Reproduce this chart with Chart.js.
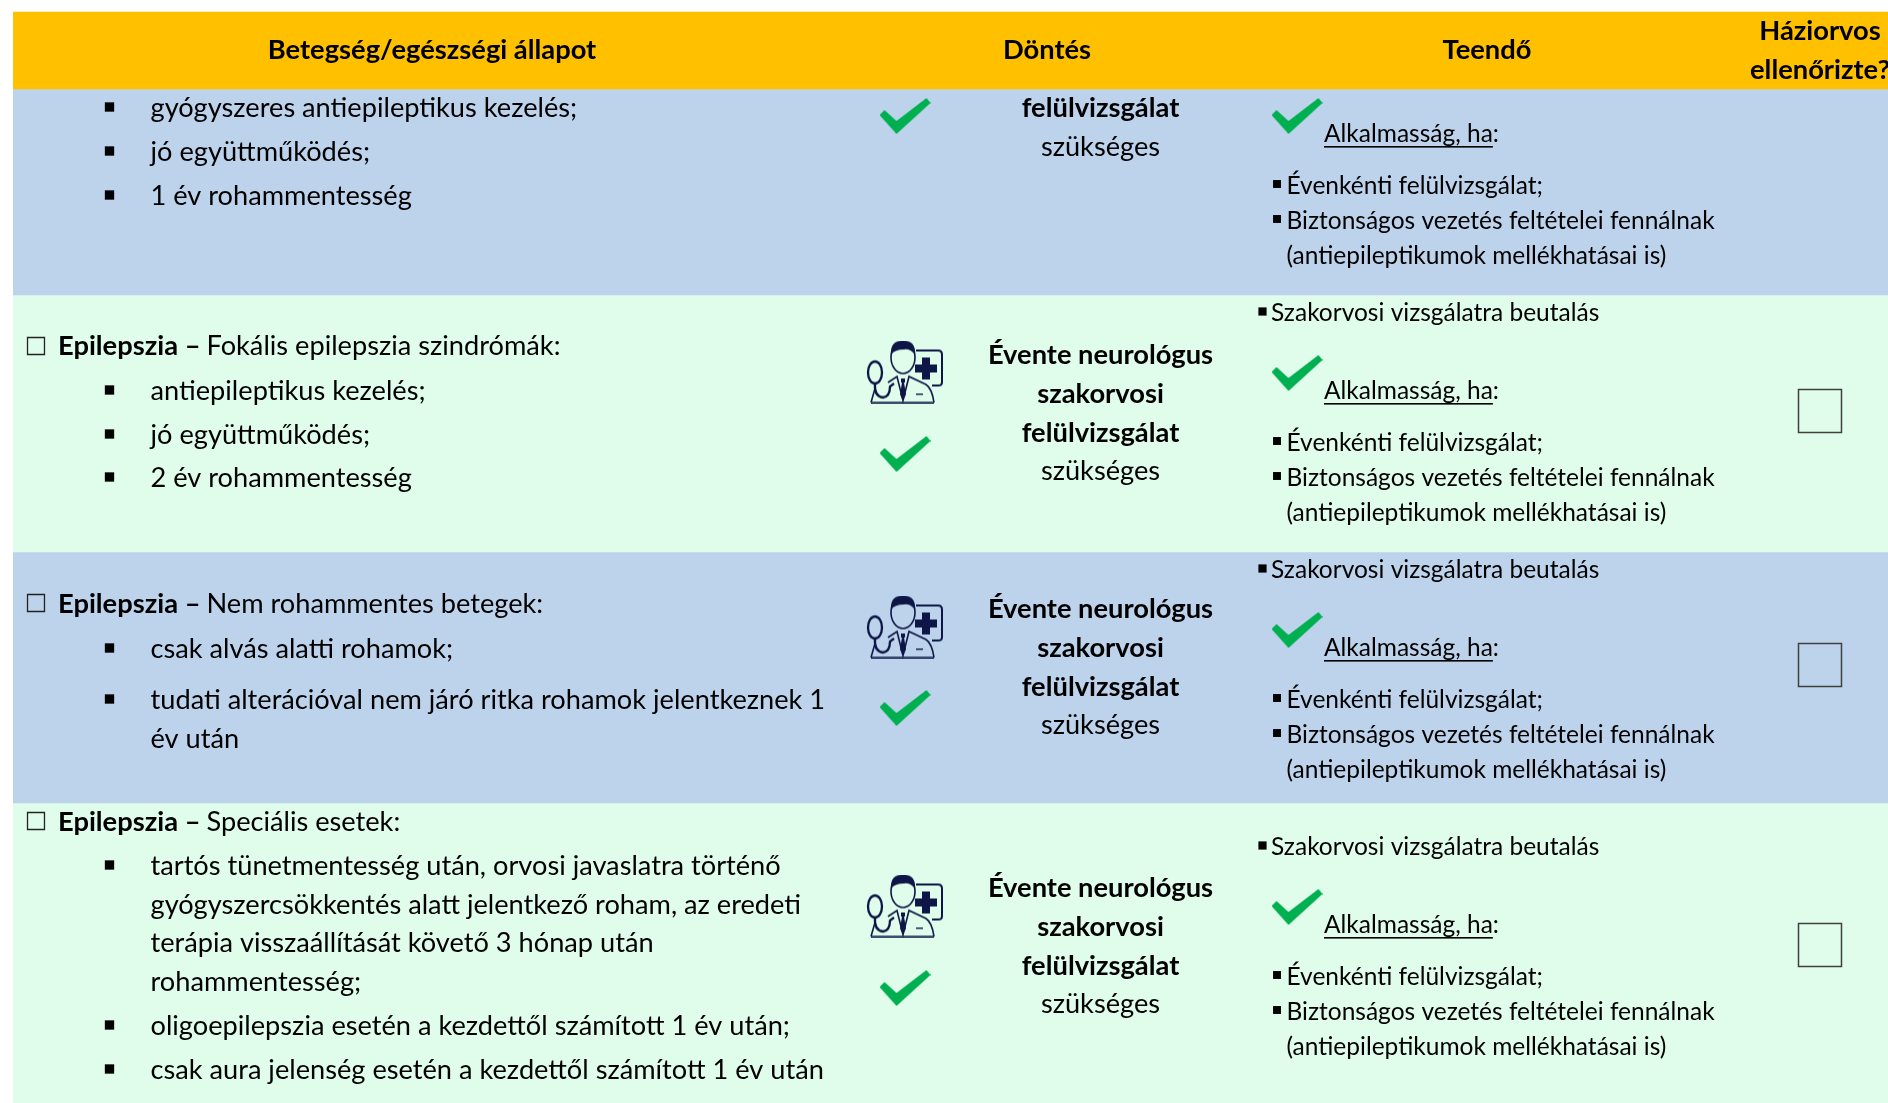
<!DOCTYPE html>
<html lang="hu">

<head>
  <meta charset="UTF-8">
  <script src="https://cdn.jsdelivr.net/npm/chart.js"></script>
  <title>Epilepszia</title>
  <style>
    html, body { margin: 0; padding: 0; background: #fff; overflow: hidden; }
    canvas { display: block; }
  </style>
</head>

<body>
  <canvas id="myChart" width="1888" height="1103"></canvas>
</body>

</html>
<script>
  // sorok hatarai (y tengely)
  var rowEdges = [12, 89, 295, 552, 803, 1103]
  var rowNames = ["fejlec", "sor1", "sor2", "sor3", "sor4"]
  var rowColors = ["#FFC000", "#BDD3EC", "#E0FCEB", "#BDD3EC", "#E0FCEB"]

  // szovegek
  var headerTexts = ["Betegség/egészségi állapot", "Döntés", "Teendő", "Háziorvos", "ellenőrizte?"]
  var conditionBold = "Epilepszia –"
  var conditionTitles = [" Fokális epilepszia szindrómák:", " Nem rohammentes betegek:", " Speciális esetek:"]
  var conditionLines = [
    "gyógyszeres antiepileptikus kezelés;", "jó együttműködés;", "1 év rohammentesség",
    "antiepileptikus kezelés;", "jó együttműködés;", "2 év rohammentesség",
    "csak alvás alatti rohamok;", "tudati alterációval nem járó ritka rohamok jelentkeznek 1", "év után",
    "tartós tünetmentesség után, orvosi javaslatra történő",
    "gyógyszercsökkentés alatt jelentkező roham, az eredeti",
    "terápia visszaállítását követő 3 hónap után",
    "rohammentesség;",
    "oligoepilepszia esetén a kezdettől számított 1 év után;",
    "csak aura jelenség esetén a kezdettől számított 1 év után"
  ]
  var decisionBold = ["Évente neurológus", "szakorvosi", "felülvizsgálat"]
  var decisionLast = "szükséges"
  var referralText = "Szakorvosi vizsgálatra beutalás"
  var fitnessText = "Alkalmasság, ha"
  var todoLines = ["Évenkénti felülvizsgálat;", "Biztonságos vezetés feltételei fennálnak", "(antiepileptikumok mellékhatásai is)"]

  // jelolok helye
  var checkX = [905, 1297]
  var checkLeftY = [116, 454, 708, 988]
  var checkTodoY = [116, 373, 630, 907]
  var doctorX = [905, 905, 905]
  var doctorY = [372, 627, 906]
  var boxX = [1820, 1820, 1820]
  var boxY = [411, 665, 945]
  var smallBoxY = [346, 603, 821]

  // alapvonalak
  var conditionBase = [117, 161, 205, 400, 444, 487, 658, 709, 748, 875, 914, 952, 991, 1035, 1079]
  var conditionHasBullet = [1, 1, 1, 1, 1, 1, 1, 1, 0, 1, 0, 0, 0, 1, 1]
  var titleBase = [355, 613, 831]
  var decisionBase = [364, 618, 897]
  var todoShift = [-257, 0, 257, 534]

  var mainFont = "27.2px Lato"
  var mainBold = "bold 27.3px Lato"
  var smallFont = "24.5px Lato"

  function makeCheck() {
    var c = document.createElement("canvas")
    c.width = 51
    c.height = 36
    var g = c.getContext("2d")
    g.fillStyle = "#00B050"
    g.beginPath()
    g.moveTo(0, 17)
    g.lineTo(5, 12)
    g.lineTo(17, 23)
    g.lineTo(47, 0)
    g.lineTo(51, 5)
    g.lineTo(17, 36)
    g.closePath()
    g.fill()
    return c
  }

  function makeDoctor() {
    var c = document.createElement("canvas")
    c.width = 78
    c.height = 63
    var g = c.getContext("2d")
    var navy = "#0D1646"
    g.strokeStyle = navy
    g.fillStyle = navy
    // kartya
    g.lineWidth = 2
    g.beginPath()
    g.moveTo(50, 10)
    g.lineTo(72, 10)
    g.quadraticCurveTo(76, 10, 76, 14)
    g.lineTo(76, 42)
    g.quadraticCurveTo(76, 45, 72, 45)
    g.lineTo(66, 45)
    g.stroke()
    g.fillRect(56, 17, 8, 22)
    g.fillRect(49, 24, 22, 8)
    // fej
    g.lineWidth = 1.6
    g.beginPath()
    g.ellipse(37, 17, 12, 16, 0, 0, Math.PI * 2)
    g.stroke()
    g.beginPath()
    g.moveTo(25, 14)
    g.quadraticCurveTo(24, 0, 37, 0)
    g.quadraticCurveTo(50, 0, 49, 14)
    g.quadraticCurveTo(44, 8, 38, 9)
    g.quadraticCurveTo(29, 9, 25, 14)
    g.fill()
    // kopeny
    g.beginPath()
    g.moveTo(5, 62)
    g.lineTo(68, 62)
    g.stroke()
    g.beginPath()
    g.moveTo(5, 62)
    g.lineTo(9, 48)
    g.moveTo(22, 42)
    g.lineTo(31, 36)
    g.lineTo(37, 60)
    g.lineTo(43, 36)
    g.lineTo(60, 44)
    g.quadraticCurveTo(66, 48, 68, 62)
    g.stroke()
    g.fillRect(35, 38, 4, 4)
    g.beginPath()
    g.moveTo(36, 42)
    g.lineTo(38, 42)
    g.lineTo(40, 54)
    g.lineTo(37, 60)
    g.lineTo(34, 54)
    g.closePath()
    g.fill()
    g.fillRect(50, 53, 7, 1.4)
    // sztetoszkop
    g.lineWidth = 2.3
    g.beginPath()
    g.ellipse(9, 32, 7, 11, 0, 0, Math.PI * 2)
    g.stroke()
    g.beginPath()
    g.moveTo(9, 43)
    g.quadraticCurveTo(8, 56, 17, 57)
    g.quadraticCurveTo(24, 56, 24, 46)
    g.lineTo(28, 43)
    g.stroke()
    return c
  }

  var tablePlugin = {
    id: "tableTexts",
    afterDatasetsDraw: function (chart) {
      var ctx = chart.ctx
      var sx = chart.scales.x
      var sy = chart.scales.y

      function put(text, x, y, font, align) {
        ctx.font = font
        ctx.textAlign = align || "left"
        ctx.textBaseline = "alphabetic"
        ctx.fillStyle = "#000"
        ctx.fillText(text, sx.getPixelForValue(x), sy.getPixelForValue(y))
      }

      ctx.save()
      // fejlec
      put(headerTexts[0], 432, 59, mainBold, "center")
      put(headerTexts[1], 1047, 59, mainBold, "center")
      put(headerTexts[2], 1487, 59, mainBold, "center")
      put(headerTexts[3], 1820, 40, mainBold, "center")
      put(headerTexts[4], 1820, 79, mainBold, "center")

      // elso oszlop
      for (var i = 0; i < conditionTitles.length; i++) {
        put(conditionBold, 58, titleBase[i], mainBold)
        var w = ctx.measureText(conditionBold).width
        put(conditionTitles[i], 58 + w - 1, titleBase[i], mainFont)
      }
      for (var j = 0; j < conditionLines.length; j++) {
        put(conditionLines[j], 150.5, conditionBase[j], mainFont)
      }

      // dontes
      put(decisionBold[2], 1100.5, 117, mainBold, "center")
      put(decisionLast, 1100.5, 156, mainFont, "center")
      for (var k = 0; k < decisionBase.length; k++) {
        for (var m = 0; m < 3; m++) {
          put(decisionBold[m], 1100.5, decisionBase[k] + m * 39, mainBold, "center")
        }
        put(decisionLast, 1100.5, decisionBase[k] + 116, mainFont, "center")
      }

      // teendo
      for (var n = 0; n < todoShift.length; n++) {
        var d = todoShift[n]
        if (n > 0) put(referralText, 1271, 321 + d, smallFont)
        put(fitnessText, 1324, 399 + d, smallFont)
        var fw = ctx.measureText(fitnessText).width
        put(":", 1324 + fw, 399 + d, smallFont)
        ctx.fillStyle = "#000"
        ctx.fillRect(sx.getPixelForValue(1324), sy.getPixelForValue(403 + d), fw, 1.6)
        put(todoLines[0], 1286.5, 451 + d, smallFont)
        put(todoLines[1], 1286.5, 486 + d, smallFont)
        put(todoLines[2], 1286.5, 521 + d, smallFont)
      }
      ctx.restore()
    }
  }

  function pointSet(xs, ys, style, radius, fill, border, line) {
    return {
      type: "scatter",
      xAxisID: "x",
      yAxisID: "y",
      order: 1,
      showLine: false,
      data: ys.map(function (y, i) { return { x: xs.length == 1 ? xs[0] : xs[i], y: y } }),
      pointStyle: style,
      pointRadius: radius,
      pointHoverRadius: radius,
      pointBackgroundColor: fill,
      pointBorderColor: border,
      pointBorderWidth: line,
    }
  }

  var bulletX = []
  var bulletY = []
  conditionBase.forEach(function (b, i) {
    if (conditionHasBullet[i]) {
      bulletX.push(109.5)
      bulletY.push(b - 10)
    }
  })

  var todoBulletX = []
  var todoBulletY = []
  var referralX = []
  var referralY = []
  todoShift.forEach(function (d, i) {
    todoBulletX.push(1277, 1277)
    todoBulletY.push(441 + d, 476 + d)
    if (i > 0) {
      referralX.push(1262.5)
      referralY.push(311.5 + d)
    }
  })

  var bandSets = rowNames.map(function (name, i) {
    return {
      label: name,
      type: "bar",
      xAxisID: "xBand",
      yAxisID: "y",
      order: 2,
      grouped: false,
      data: [[rowEdges[i], rowEdges[i + 1]]],
      backgroundColor: rowColors[i],
      borderWidth: 0,
      barPercentage: 1,
      categoryPercentage: 1,
    }
  })

  var checkImg = makeCheck()
  var doctorImg = makeDoctor()

  var myChart = new Chart(document.getElementById("myChart"), {
    type: "bar",
    data: {
      labels: ["tabla"],
      datasets: bandSets.concat([
        pointSet([checkX[0]], checkLeftY, checkImg, 20, "#00B050", "#00B050", 0),
        pointSet([checkX[1]], checkTodoY, checkImg, 20, "#00B050", "#00B050", 0),
        pointSet(doctorX, doctorY, doctorImg, 30, "#0D1646", "#0D1646", 0),
        pointSet(boxX, boxY, "rect", 30.4, "rgba(0,0,0,0)", "#404040", 1.5),
        pointSet([36], smallBoxY, "rect", 12, "rgba(0,0,0,0)", "#222", 1.3),
        pointSet(bulletX, bulletY, "rect", 6.6, "#000", "#000", 0),
        pointSet(todoBulletX, todoBulletY, "rect", 5.6, "#000", "#000", 0),
        pointSet(referralX, referralY, "rect", 5.8, "#000", "#000", 0),
      ]),
    },
    options: {
      responsive: false,
      animation: false,
      events: [],
      layout: { autoPadding: false, padding: { left: 13, right: 0, top: 0, bottom: 0 } },
      plugins: {
        legend: { display: false },
        title: { display: false },
        tooltip: { enabled: false },
      },
      scales: {
        xBand: { type: "category", labels: ["tabla"], offset: true, display: false },
        x: { type: "linear", min: 13, max: 1888, offset: false, display: false },
        y: { type: "linear", min: 0, max: 1103, reverse: true, display: false },
      },
    },
    plugins: [tablePlugin],
  })
</script>
